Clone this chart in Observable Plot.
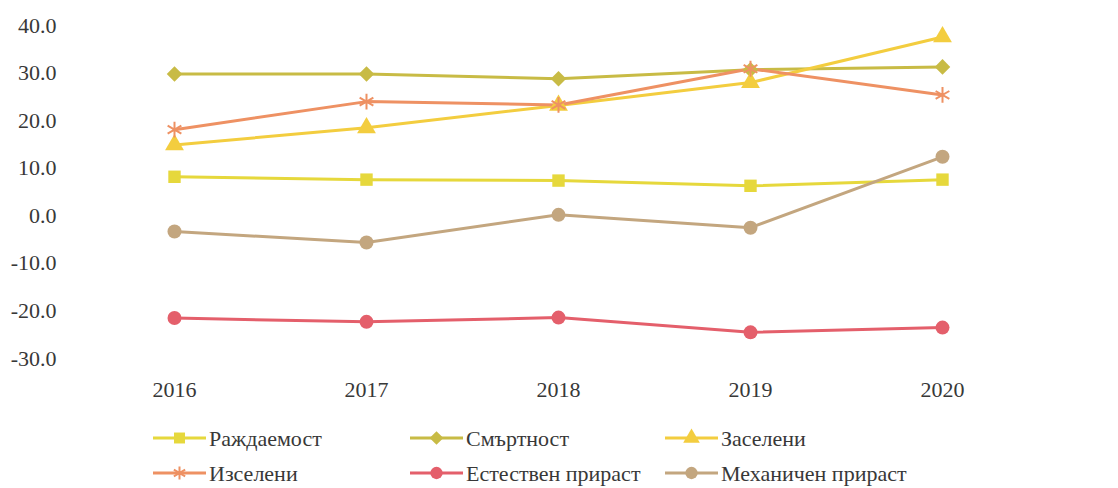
<!DOCTYPE html>
<html>
<head>
<meta charset="utf-8">
<script src="https://cdn.jsdelivr.net/npm/d3@7"></script>
<script src="https://cdn.jsdelivr.net/npm/@observablehq/plot@0.6"></script>
<style>
  html, body { margin: 0; padding: 0; background: #fff; }
  #wrap { position: relative; width: 1118px; height: 488px; overflow: hidden; font-family: "Liberation Serif", "Times New Roman", serif; }
  #legend { position: absolute; left: 0; top: 405px; }
  svg text { font-family: "Liberation Serif", "Times New Roman", serif !important; }
</style>
</head>
<body>
<div id="wrap"><div id="chart"></div><div id="legend"></div></div>
<script>
// ---- data ----
const years = ["2016", "2017", "2018", "2019", "2020"];
const seriesNames = ["Раждаемост", "Смъртност", "Заселени", "Изселени", "Естествен прираст", "Механичен прираст"];
const births      = [8.2, 7.6, 7.4, 6.3, 7.6];
const deaths      = [29.8, 29.8, 28.8, 30.7, 31.3];
const settled     = [14.9, 18.5, 23.2, 28.0, 37.6];
const emigrated   = [18.1, 24.0, 23.3, 30.9, 25.4];
const naturalGr   = [-21.5, -22.3, -21.4, -24.5, -23.5];
const mechanicalGr= [-3.3, -5.6, 0.2, -2.5, 12.4];
const yTicks = [-30, -20, -10, 0, 10, 20, 30, 40];

// ---- styling ----
const colors  = ["#e6d83c", "#c8bb45", "#f3cd3f", "#ee9163", "#e45f6b", "#c3a67f"];
const symbols = ["square", "diamond2", "triangle", "asterisk", "circle", "circle"];

const valueArrays = [births, deaths, settled, emigrated, naturalGr, mechanicalGr];
const rows = [];
seriesNames.forEach((s, i) => years.forEach((y, j) => rows.push({series: s, year: y, value: valueArrays[i][j]})));

const FONT = '"Liberation Serif", "Times New Roman", serif';
const W = 1118, H = 405;
const chart = Plot.plot({
  width: W, height: H,
  marginTop: 25, marginBottom: 47, marginLeft: 76, marginRight: 78,
  style: {fontFamily: FONT, fontSize: "22px", color: "#383838", background: "#fff"},
  x: {type: "point", domain: years, padding: 0.5, label: null, tickSize: 0, tickPadding: 23},
  y: {domain: [-30, 40], ticks: yTicks, tickFormat: d => d.toFixed(1), label: null, tickSize: 0, tickPadding: 20},
  color: {domain: seriesNames, range: colors},
  symbol: {domain: seriesNames, range: symbols},
  marks: [
    Plot.line(rows, {x: "year", y: "value", z: "series", stroke: "series", strokeWidth: 3}),
    Plot.dot(rows.filter(d => d.series !== "Изселени"), {x: "year", y: "value", symbol: "series", fill: "series", r: 7}),
    Plot.dot(rows.filter(d => d.series === "Изселени"), {x: "year", y: "value", symbol: "series", stroke: "series", strokeWidth: 2, r: 7.5})
  ]
});
document.getElementById("chart").appendChild(chart);

// ---- legend ----
const lg = d3.select("#legend").append("svg").attr("width", W).attr("height", 83)
  .style("font-family", FONT).style("font-size", "22px");
const colX = [153, 410, 665];
const rowY = [33, 68];
const symMap = {square: d3.symbolSquare, diamond2: d3.symbolDiamond2, triangle: d3.symbolTriangle, asterisk: d3.symbolAsterisk, circle: d3.symbolCircle};
seriesNames.forEach((s, i) => {
  const cx = colX[i % 3], cy = rowY[Math.floor(i / 3)];
  const g = lg.append("g").attr("transform", `translate(${cx},${cy})`);
  g.append("line").attr("x1", 0).attr("x2", 53).attr("y1", 0).attr("y2", 0)
    .attr("stroke", colors[i]).attr("stroke-width", 3);
  const path = g.append("path").attr("transform", "translate(26.5,0)")
    .attr("d", d3.symbol(symMap[symbols[i]], 120)());
  if (symbols[i] === "asterisk") path.attr("fill", "none").attr("stroke", colors[i]).attr("stroke-width", 2);
  else path.attr("fill", colors[i]);
  g.append("text").attr("x", 56).attr("y", 0).attr("dy", "0.35em").attr("fill", "#383838").text(s);
});
</script>
</body>
</html>
